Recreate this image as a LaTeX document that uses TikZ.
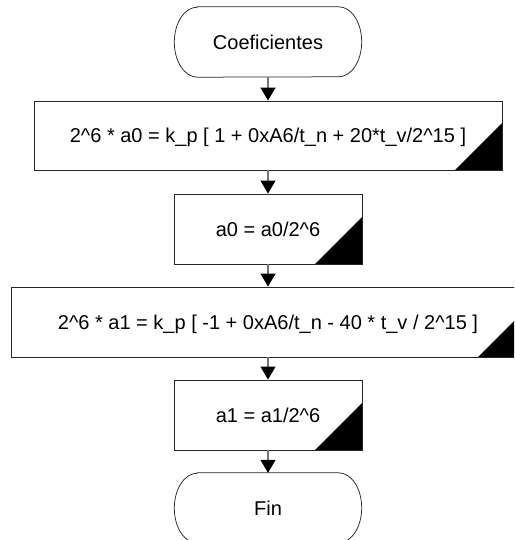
\documentclass[tikz,border=0pt]{standalone}
\usepackage{fontspec}
\setmainfont{Liberation Sans}
\usetikzlibrary{arrows.meta}
\begin{document}
\begin{tikzpicture}[x=1pt,y=-1pt,
  label font/.style={font=\fontsize{20}{24}\selectfont, text height=14.3pt, text depth=0pt},
  procbox/.style={label font, draw=black!85, line width=0.9pt, fill=white,
    minimum height=69pt, inner sep=0pt,
    path picture={\fill[black] (path picture bounding box.south east)
      -- ([xshift=-47pt]path picture bounding box.south east)
      -- ([yshift=47pt]path picture bounding box.south east) -- cycle;}},
  termbox/.style={label font, minimum width=187pt, minimum height=70pt, inner sep=0pt},
  termline/.style={draw=black!85, line width=0.75pt},
  conn/.style={draw=black!55, line width=1.2pt,
    -{Triangle[length=13pt,width=15pt,color=black,fill=black]}}
]
\useasboundingbox (0,0) rectangle (514,540);
\clip (0,0) rectangle (514,540);

\newcommand\terminaloutline[1]{%
  \draw[termline] ([xshift=23pt]#1.north west) -- ([xshift=-23pt]#1.north east)
    arc[start angle=90, end angle=-90, x radius=23pt, y radius=35pt]
    -- ([xshift=23pt]#1.south west)
    arc[start angle=270, end angle=90, x radius=23pt, y radius=35pt] -- cycle;}

% start / end terminals
\node[termbox] (start) at (268,42) {Coeficientes};
\terminaloutline{start}

% process steps
\node[procbox, minimum width=468pt] (s1) at (268,135.5)
  {2\textasciicircum 6 * a0 = k\_p [ 1 + 0xA6/t\_n + 20*t\_v/2\textasciicircum 15 ]};
\node[procbox, minimum width=188pt, minimum height=70pt] (s2) at (268,229)
  {a0 = a0/2\textasciicircum 6};
\node[procbox, minimum width=514pt, minimum height=70pt] (s3) at (268,322)
  {2\textasciicircum 6 * a1 = k\_p [ -1 + 0xA6/t\_n - 40 * t\_v / 2\textasciicircum 15 ]};
\node[procbox, minimum width=188pt, minimum height=70pt] (s4) at (268,415)
  {a1 = a1/2\textasciicircum 6};

\node[termbox] (stop) at (268,508) {Fin};
\terminaloutline{stop}

% flow
\draw[conn] (start) -- (s1);
\draw[conn] (s1) -- (s2);
\draw[conn] (s2) -- (s3);
\draw[conn] (s3) -- (s4);
\draw[conn] (s4) -- (stop);
\end{tikzpicture}
\end{document}
